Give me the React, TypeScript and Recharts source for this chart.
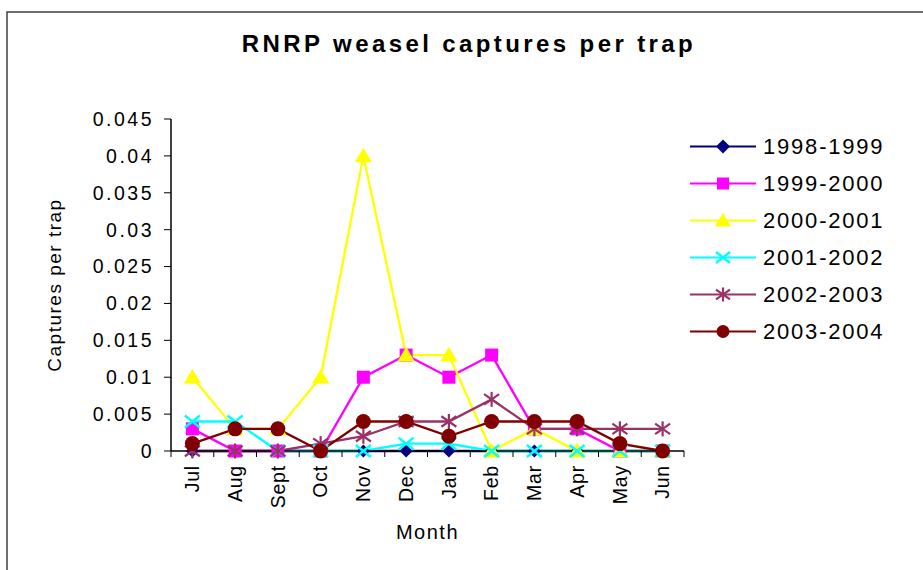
import React from 'react';
import { LineChart, Line, XAxis, YAxis, Legend, Label } from 'recharts';

const months = ['Jul', 'Aug', 'Sept', 'Oct', 'Nov', 'Dec', 'Jan', 'Feb', 'Mar', 'Apr', 'May', 'Jun'];
const yTicks = [0, 0.005, 0.01, 0.015, 0.02, 0.025, 0.03, 0.035, 0.04, 0.045];

const seasons = ['1998-1999', '1999-2000', '2000-2001', '2001-2002', '2002-2003', '2003-2004'];
const s1998 = [0, 0, 0, 0, 0, 0, 0, 0, 0, 0, 0, 0];
const s1999 = [0.003, 0, 0, 0, 0.01, 0.013, 0.01, 0.013, 0.003, 0.003, 0, 0];
const s2000 = [0.01, 0.003, 0.003, 0.01, 0.04, 0.013, 0.013, 0, 0.003, 0, 0, 0];
const s2001 = [0.004, 0.004, 0, 0, 0, 0.001, 0.001, 0, 0, 0, 0, 0];
const s2002 = [0, 0, 0, 0.001, 0.002, 0.004, 0.004, 0.007, 0.003, 0.003, 0.003, 0.003];
const s2003 = [0.001, 0.003, 0.003, 0, 0.004, 0.004, 0.002, 0.004, 0.004, 0.004, 0.001, 0];

const seriesValues = [s1998, s1999, s2000, s2001, s2002, s2003];

const chartData = months.map((m, i) => {
    const row: { [key: string]: string | number } = { month: m };
    seasons.forEach((s, k) => { row[s] = seriesValues[k][i]; });
    return row;
});

const W = 923;
const H = 570;
const M = { top: 119, right: 239, left: 0, bottom: 0 };
const Y_AXIS_W = 171;
const X_AXIS_H = 119;
const plotWidth = W - Y_AXIS_W - M.right;
const band = plotWidth / months.length;

type Shape = 'diamond' | 'square' | 'triangle' | 'x' | 'star' | 'circle';
const style: { [key: string]: { color: string; shape: Shape } } = {
    '1998-1999': { color: '#000080', shape: 'diamond' },
    '1999-2000': { color: '#FF00FF', shape: 'square' },
    '2000-2001': { color: '#FFFF00', shape: 'triangle' },
    '2001-2002': { color: '#00FFFF', shape: 'x' },
    '2002-2003': { color: '#993366', shape: 'star' },
    '2003-2004': { color: '#800000', shape: 'circle' },
};

const marker = (shape: Shape, color: string, cx: number, cy: number, s: number, key?: React.Key) => {
    switch (shape) {
        case 'diamond':
            return <polygon key={key} points={`${cx},${cy - s} ${cx + s},${cy} ${cx},${cy + s} ${cx - s},${cy}`} fill={color} />;
        case 'square':
            return <rect key={key} x={cx - s} y={cy - s} width={2 * s} height={2 * s} fill={color} />;
        case 'triangle':
            return <polygon key={key} points={`${cx},${cy - s * 1.1} ${cx + s * 1.15},${cy + s * 0.85} ${cx - s * 1.15},${cy + s * 0.85}`} fill={color} />;
        case 'x':
            return (
                <g key={key} stroke={color} strokeWidth={2.5}>
                    <line x1={cx - s} y1={cy - s * 0.8} x2={cx + s} y2={cy + s * 0.8} />
                    <line x1={cx - s} y1={cy + s * 0.8} x2={cx + s} y2={cy - s * 0.8} />
                </g>
            );
        case 'star':
            return (
                <g key={key} stroke={color} strokeWidth={2.2}>
                    <line x1={cx - s} y1={cy - s * 0.7} x2={cx + s} y2={cy + s * 0.7} />
                    <line x1={cx - s} y1={cy + s * 0.7} x2={cx + s} y2={cy - s * 0.7} />
                    <line x1={cx} y1={cy - s} x2={cx} y2={cy + s} />
                </g>
            );
        default:
            return <circle key={key} cx={cx} cy={cy} r={s} fill={color} />;
    }
};

const dotFor = (name: string) => (props: any) => {
    const { cx, cy, index } = props;
    const st = style[name];
    const size = st.shape === 'diamond' ? 6.5 : st.shape === 'square' ? 6.5 : 7.5;
    return marker(st.shape, st.color, cx, cy, size, `${name}-${index}`);
};

const MonthTick = (props: any) => {
    const { x, y, payload, index } = props;
    const axisY = y - 12;
    return (
        <g>
            <line x1={x - band / 2} y1={axisY} x2={x - band / 2} y2={axisY + 6} stroke="#000" />
            {index === months.length - 1 && (
                <line x1={x + band / 2} y1={axisY} x2={x + band / 2} y2={axisY + 6} stroke="#000" />
            )}
            <text
                x={x}
                y={y + 2}
                transform={`rotate(-90, ${x}, ${y + 2})`}
                textAnchor="end"
                dy="0.35em"
                fontSize={19.5}
                letterSpacing={0.8}
                fill="#000"
            >
                {payload.value}
            </text>
        </g>
    );
};

const LegendBox = ({ payload }: any) => (
    <svg width={230} height={225}>
        {(payload || []).map((item: any, i: number) => {
            const st = style[item.value];
            const cy = 18.5 + i * 37;
            const s = st.shape === 'triangle' ? 7 : st.shape === 'circle' ? 6.5 : 7;
            return (
                <g key={item.value}>
                    <line x1={4} y1={cy} x2={70} y2={cy} stroke={st.color} strokeWidth={2} />
                    {marker(st.shape, st.color, 37, cy, st.shape === 'square' ? 6 : s)}
                    <text x={77} y={cy} dy="0.36em" fontSize={22} letterSpacing={1.8} fill="#000">
                        {item.value}
                    </text>
                </g>
            );
        })}
    </svg>
);

export default function App() {
    return (
        <div style={{ position: 'relative', width: W, height: H, fontFamily: '"Liberation Sans", Arial, sans-serif', background: '#fff', overflow: 'hidden' }}>
            <style>{'body{margin:0}'}</style>
            <svg width={W} height={H} style={{ position: 'absolute', left: 0, top: 0, pointerEvents: 'none' }}>
                <rect x={7} y={12} width={W} height={H} fill="none" stroke="#404040" strokeWidth={1.5} />
                <text x={469} y={52} textAnchor="middle" fontSize={24} fontWeight="bold" letterSpacing={3.4} fill="#000">
                    RNRP weasel captures per trap
                </text>
            </svg>
            <LineChart width={W} height={H} data={chartData} margin={M} style={{ position: 'absolute', left: 0, top: 0 }}>
                <XAxis
                    dataKey="month"
                    interval={0}
                    height={X_AXIS_H}
                    padding={{ left: band / 2, right: band / 2 }}
                    tickLine={false}
                    tickSize={6}
                    tickMargin={6}
                    tick={MonthTick}
                    axisLine={{ stroke: '#000', strokeWidth: 1.5 }}
                >
                    <Label value="Month" position="insideBottom" offset={31} fontSize={20} letterSpacing={1.5} fill="#000" />
                </XAxis>
                <YAxis
                    type="number"
                    domain={[0, 0.045]}
                    ticks={yTicks}
                    interval={0}
                    width={Y_AXIS_W}
                    tickSize={7}
                    tickMargin={10}
                    tick={{ fontSize: 19.5, fill: '#000', letterSpacing: 2.5 }}
                    tickLine={{ stroke: '#000' }}
                    axisLine={{ stroke: '#000', strokeWidth: 1.5 }}
                >
                    <Label
                        value="Captures per trap"
                        angle={-90}
                        position="insideLeft"
                        offset={54}
                        fontSize={19}
                        letterSpacing={1.5}
                        fill="#000"
                        style={{ textAnchor: 'middle' }}
                    />
                </YAxis>
                <Legend
                    layout="vertical"
                    align="center"
                    verticalAlign="middle"
                    wrapperStyle={{ left: 686, top: 128, width: 230 }}
                    content={LegendBox}
                />
                {seasons.map(name => (
                    <Line
                        key={name}
                        type="linear"
                        dataKey={name}
                        name={name}
                        stroke={style[name].color}
                        strokeWidth={2.3}
                        dot={dotFor(name)}
                        activeDot={false}
                        isAnimationActive={false}
                    />
                ))}
            </LineChart>
        </div>
    );
}
